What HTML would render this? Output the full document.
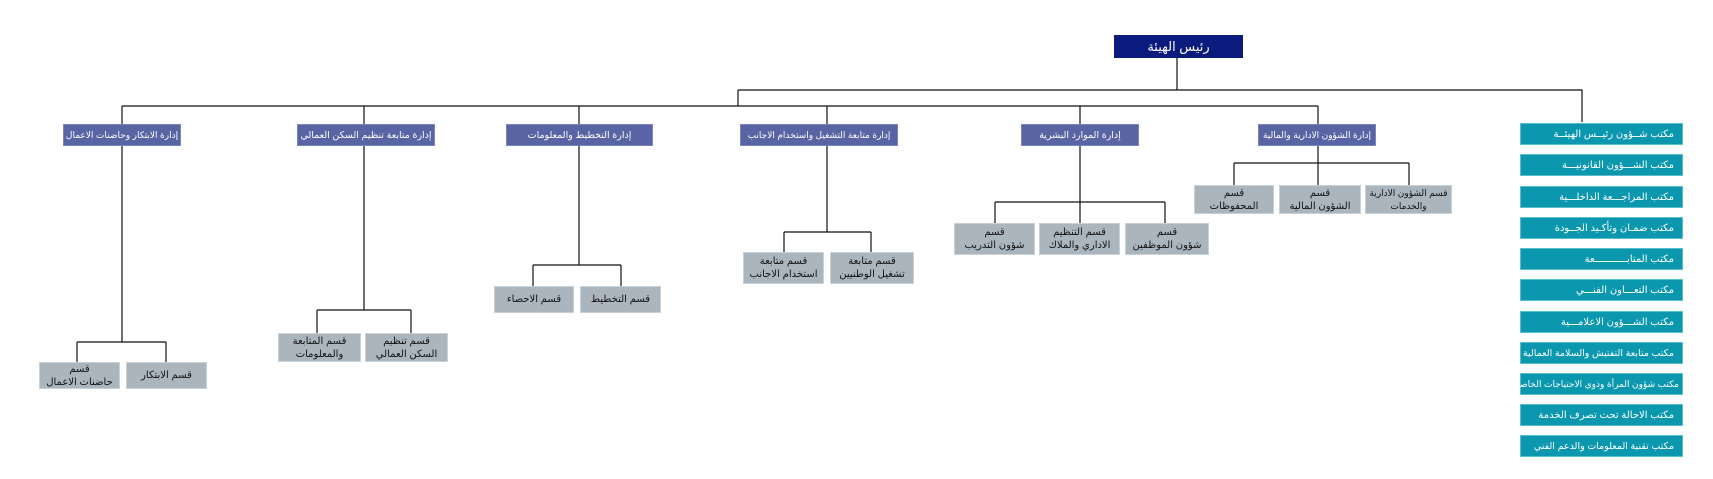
<!DOCTYPE html>
<html><head><meta charset="utf-8"><style>
body{margin:0;width:1713px;height:479px;background:#fff;position:relative;overflow:hidden;font-family:"Liberation Sans","Noto Sans CJK SC","DejaVu Sans",sans-serif}
.b{position:absolute;display:flex;align-items:center;justify-content:center;text-align:center;direction:rtl;line-height:13px;box-sizing:border-box}
.top{background:#0b1a7d;color:#fff;font-size:13px}
.d{background:#5864a3;color:#fff;font-size:9.5px;white-space:nowrap;border:1px solid #7a86bb;letter-spacing:-0.2px}
.s{background:#abb5be;color:#111;font-size:10px;border:1px solid #c9d0d6}
.r{background:#0b97ae;color:#fff;font-size:10px;justify-content:flex-start;padding-right:8px;white-space:nowrap;border:1px solid #5bbccc}
svg{position:absolute;left:0;top:0}
</style></head><body>
<svg width="1713" height="479" stroke="#111" stroke-width="1.2" fill="none">
<path d="M1177 58V90M738 90H1582V122M738 90V106M122 106H1318"/>
<path d="M122 106V124M364 106V124M579 106V124M827 106V124M1080 106V124M1318 106V124"/>
<path d="M1318 146V185M1234 163H1409M1234 163V185M1409 163V185"/>
<path d="M1080 146V223M995 202H1165M995 202V223M1165 202V223"/>
<path d="M827 146V232M784 232H871M784 232V252M871 232V252"/>
<path d="M579 146V265M533 265H621M533 265V286M621 265V286"/>
<path d="M364 146V310M317 310H411M317 310V333M411 310V333"/>
<path d="M122 146V342M77 342H166M77 342V362M166 342V362"/>
</svg>
<div class="b top" style="left:1114px;top:35px;width:129px;height:23px">رئيس الهيئة</div>
<div class="b d" style="left:63px;top:124px;width:118px;height:22px;font-size:9px">إدارة الابتكار وحاضنات الاعمال</div>
<div class="b d" style="left:297px;top:124px;width:138px;height:22px">إدارة متابعة تنظيم السكن العمالي</div>
<div class="b d" style="left:506px;top:124px;width:147px;height:22px">إدارة التخطيط والمعلومات</div>
<div class="b d" style="left:740px;top:124px;width:158px;height:22px;font-size:9px">إدارة متابعة التشغيل واستخدام الاجانب</div>
<div class="b d" style="left:1021px;top:124px;width:118px;height:22px">إدارة الموارد البشرية</div>
<div class="b d" style="left:1258px;top:124px;width:118px;height:22px;font-size:9px">إدارة الشؤون الادارية والمالية</div>

<div class="b s" style="left:1194px;top:185px;width:80px;height:29px">قسم<br>المحفوظات</div>
<div class="b s" style="left:1279px;top:185px;width:82px;height:29px">قسم<br>الشؤون المالية</div>
<div class="b s" style="left:1365px;top:185px;width:87px;height:29px;font-size:9px;white-space:nowrap">قسم الشؤون الادارية<br>والخدمات</div>

<div class="b s" style="left:954px;top:223px;width:81px;height:32px">قسم<br>شؤون التدريب</div>
<div class="b s" style="left:1039px;top:223px;width:81px;height:32px">قسم التنظيم<br>الاداري والملاك</div>
<div class="b s" style="left:1125px;top:223px;width:84px;height:32px">قسم<br>شؤون الموظفين</div>

<div class="b s" style="left:743px;top:252px;width:81px;height:32px">قسم متابعة<br>استخدام الاجانب</div>
<div class="b s" style="left:830px;top:252px;width:84px;height:32px">قسم متابعة<br>تشغيل الوطنيين</div>

<div class="b s" style="left:494px;top:286px;width:80px;height:27px">قسم الاحصاء</div>
<div class="b s" style="left:580px;top:286px;width:81px;height:27px">قسم التخطيط</div>

<div class="b s" style="left:278px;top:333px;width:83px;height:29px">قسم المتابعة<br>والمعلومات</div>
<div class="b s" style="left:365px;top:333px;width:83px;height:29px">قسم تنظيم<br>السكن العمالي</div>

<div class="b s" style="left:39px;top:362px;width:81px;height:27px">قسم<br>حاضنات الاعمال</div>
<div class="b s" style="left:126px;top:362px;width:81px;height:27px">قسم الابتكار</div>

<div class="b r" style="left:1520px;top:123px;width:163px;height:22px">مكتب شــؤون رئيــس الهيئــة</div>
<div class="b r" style="left:1520px;top:154px;width:163px;height:22px">مكتب الشـــؤون القانونيـــة</div>
<div class="b r" style="left:1520px;top:186px;width:163px;height:22px">مكتب المراجـــعة الداخلـــية</div>
<div class="b r" style="left:1520px;top:217px;width:163px;height:22px">مكتب ضمـان وتأكـيد الجــودة</div>
<div class="b r" style="left:1520px;top:248px;width:163px;height:22px">مكتب المتابـــــــــــعة</div>
<div class="b r" style="left:1520px;top:279px;width:163px;height:22px">مكتب التعـــاون الفنـــي</div>
<div class="b r" style="left:1520px;top:311px;width:163px;height:22px">مكتب الشـــؤون الاعلامـــية</div>
<div class="b r" style="left:1520px;top:342px;width:163px;height:22px;font-size:9.5px">مكتب متابعة التفتيش والسلامة العمالية</div>
<div class="b r" style="left:1520px;top:373px;width:163px;height:22px;padding-right:3px;font-size:9px">مكتب شؤون المرأة وذوي الاحتياجات الخاصة</div>
<div class="b r" style="left:1520px;top:404px;width:163px;height:22px">مكتب الاحالة تحت تصرف الخدمة</div>
<div class="b r" style="left:1520px;top:435px;width:163px;height:22px;font-size:9.5px">مكتب تقنية المعلومات والدعم الفني</div>
</body></html>
